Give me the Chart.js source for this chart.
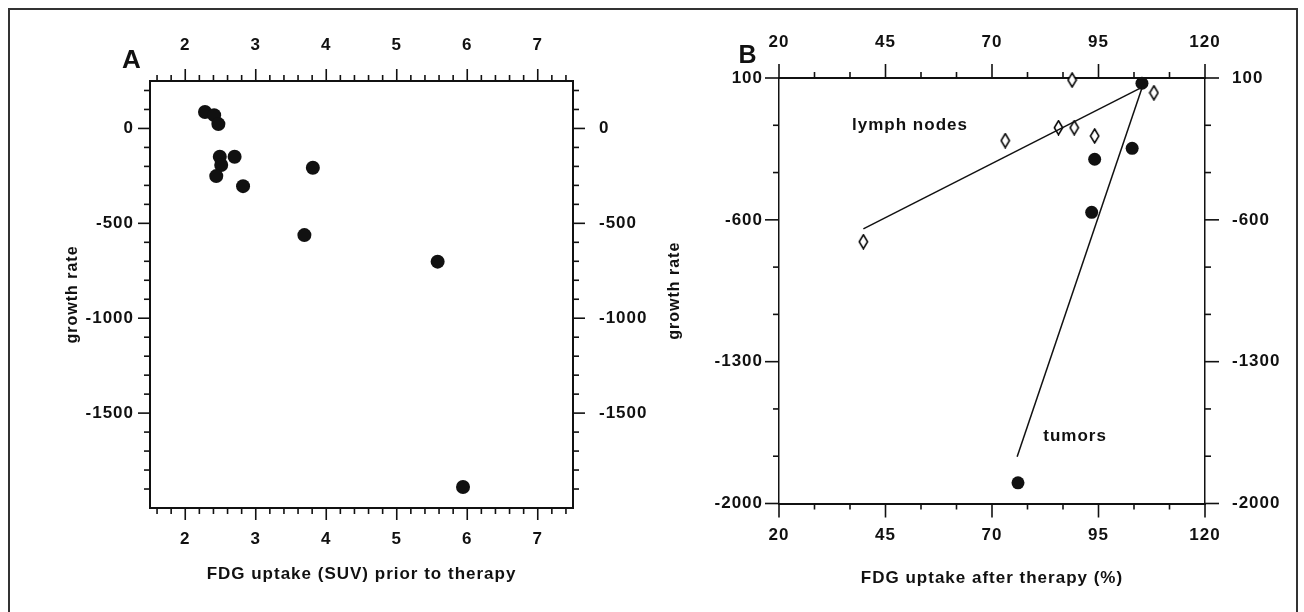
<!DOCTYPE html>
<html>
<head>
<meta charset="utf-8">
<script src="https://cdn.jsdelivr.net/npm/chart.js@4.4.1/dist/chart.umd.min.js"></script>
<style>
  html, body { margin: 0; padding: 0; background: #fff; }
  #page { position: relative; width: 1304px; height: 612px; overflow: hidden; }
  #frame { position: absolute; left: 8px; top: 8px; width: 1286px; height: 640px; border: 2px solid #333; }
  canvas { position: absolute; top: 0; }
  #chartA { left: 0; }
  #chartB { left: 652px; }
</style>
</head>
<body>
<div id="page">
  <div id="frame"></div>
  <canvas id="chartA" width="652" height="612"></canvas>
  <canvas id="chartB" width="652" height="612"></canvas>
</div>
<script>
// Panel A: SUV before therapy vs growth rate
const suvPrior = [2.28, 2.41, 2.47, 2.49, 2.70, 2.51, 2.44, 2.82, 3.81, 3.69, 5.58, 5.94];
const growthA = [87, 70, 23, -149, -149, -193, -251, -304, -207, -562, -702, -1889];
const ticksAX = [2, 3, 4, 5, 6, 7];
const ticksAY = [0, -500, -1000, -1500];

// Panel B: FDG uptake after therapy (%) vs growth rate
const nodesX = [88.8, 108.0, 85.6, 89.3, 94.1, 73.1, 39.8];
const nodesY = [90, 27, -145, -145, -186, -209, -708];
const tumorsX = [105.2, 102.9, 94.1, 93.4, 76.1];
const tumorsY = [74, -247, -301, -563, -1898];
const nodesFitX = [39.8, 104.7];
const nodesFitY = [-645, 49];
const tumorsFitX = [75.9, 105.7];
const tumorsFitY = [-1769, 82];
const ticksBX = [20, 45, 70, 95, 120];
const ticksBY = [100, -600, -1300, -2000];

const INK = '#111';
Chart.defaults.font.family = '"Liberation Sans", Arial, sans-serif';
Chart.defaults.font.weight = 'bold';
Chart.defaults.color = INK;

const toPoints = (xs, ys) => xs.map((x, i) => ({ x: x, y: ys[i] }));
const isLabel = (labels, v) => labels.some(l => Math.abs(l - v) < 1e-6);

// minor ticks every step, long ticks where a label sits
function tickList(min, max, step, labels) {
  const out = [];
  const a = labels[0];
  const k0 = Math.ceil((min - a) / step - 1e-6);
  for (let k = k0; a + k * step <= max + 1e-6; k++) {
    const v = a + k * step;
    const big = isLabel(labels, v);
    if (big || (v > min + 1e-6 && v < max - 1e-6)) out.push({ value: v, big: big });
  }
  return out;
}

function makeAxis(pos, min, max, step, labels, size, pad, title, border) {
  return {
    type: 'linear',
    position: pos,
    min: min,
    max: max,
    grid: { display: false, drawTicks: false },
    border: { display: true, color: INK, width: border },
    ticks: {
      autoSkip: false,
      maxRotation: 0,
      minRotation: 0,
      padding: pad,
      font: { size: 17, weight: 'bold' },
      callback: v => isLabel(labels, v) ? String(labels.find(l => Math.abs(l - v) < 1e-6)) : ''
    },
    title: title || { display: false },
    afterBuildTicks: s => { s.ticks = tickList(min, max, step, labels); },
    afterFit: s => {
      if (pos === 'left' || pos === 'right') s.width = size; else s.height = size;
    }
  };
}

// tick marks drawn from the scales' ticks
const tickMarks = {
  id: 'tickMarks',
  afterDraw(chart, args, opts) {
    const ctx = chart.ctx;
    ctx.save();
    ctx.strokeStyle = INK;
    ctx.lineWidth = 1.6;
    Object.values(chart.scales).forEach(s => {
      s.ticks.forEach(t => {
        const len = t.big ? opts.major : opts.minor;
        const p = s.getPixelForValue(t.value);
        ctx.beginPath();
        if (s.position === 'left') { ctx.moveTo(s.right - len, p); ctx.lineTo(s.right, p); }
        else if (s.position === 'right') { ctx.moveTo(s.left, p); ctx.lineTo(s.left + len, p); }
        else if (s.position === 'top') { ctx.moveTo(p, s.bottom - len); ctx.lineTo(p, s.bottom); }
        else { ctx.moveTo(p, s.top); ctx.lineTo(p, s.top + len); }
        ctx.stroke();
      });
    });
    ctx.restore();
  }
};

// panel letters and curve labels
const notes = {
  id: 'notes',
  beforeDraw(chart) { chart.ctx.letterSpacing = '1px'; },
  afterDraw(chart, args, opts) {
    const ctx = chart.ctx;
    (opts.items || []).forEach(n => {
      let x = n.x, y = n.y;
      if (n.data) {
        x = chart.scales.x.getPixelForValue(n.x);
        y = chart.scales.y.getPixelForValue(n.y);
      }
      ctx.save();
      ctx.font = 'bold ' + n.size + 'px "Liberation Sans", Arial, sans-serif';
      ctx.fillStyle = INK;
      ctx.textAlign = 'center';
      ctx.textBaseline = 'middle';
      ctx.fillText(n.text, x, y);
      ctx.restore();
    });
  }
};

// open tall diamond for lymph nodes
const diamond = document.createElement('canvas');
diamond.width = 11; diamond.height = 16;
(function () {
  const c = diamond.getContext('2d');
  c.beginPath();
  c.moveTo(5.5, 1); c.lineTo(9.7, 8); c.lineTo(5.5, 15); c.lineTo(1.3, 8); c.closePath();
  c.fillStyle = '#fff'; c.fill();
  c.strokeStyle = '#000'; c.lineWidth = 1.5; c.stroke();
})();

const ytitle = (pad) => ({ display: true, text: 'growth rate', font: { size: 16, weight: 'bold' }, padding: { top: pad } });
const xtitle = (txt, pad) => ({ display: true, text: txt, font: { size: 17, weight: 'bold' }, padding: { bottom: pad } });

new Chart(document.getElementById('chartA'), {
  type: 'scatter',
  data: {
    datasets: [{
      data: toPoints(suvPrior, growthA),
      pointStyle: 'circle',
      pointRadius: 7,
      pointHoverRadius: 7,
      backgroundColor: INK,
      borderColor: INK,
      borderWidth: 0,
      clip: false
    }]
  },
  options: {
    responsive: false,
    animation: false,
    events: [],
    layout: { padding: 0 },
    scales: {
      x: makeAxis('bottom', 1.5, 7.5, 0.2, ticksAX, 104, 21, xtitle('FDG uptake (SUV) prior to therapy', 27), 2),
      x2: makeAxis('top', 1.5, 7.5, 0.2, ticksAX, 81, 25, null, 2),
      y: makeAxis('left', -2000, 250, 100, ticksAY, 150, 16, ytitle(63), 2),
      y2: makeAxis('right', -2000, 250, 100, ticksAY, 79, 26, null, 2)
    },
    plugins: {
      legend: { display: false },
      tooltip: { enabled: false },
      tickMarks: { major: 12, minor: 6 },
      notes: { items: [{ text: 'A', x: 132, y: 61, size: 26 }] }
    }
  },
  plugins: [tickMarks, notes]
});

new Chart(document.getElementById('chartB'), {
  type: 'scatter',
  data: {
    datasets: [
      {
        data: toPoints(nodesFitX, nodesFitY),
        showLine: true,
        borderColor: INK,
        borderWidth: 1.5,
        pointRadius: 0,
        clip: false
      },
      {
        data: toPoints(tumorsFitX, tumorsFitY),
        showLine: true,
        borderColor: INK,
        borderWidth: 1.5,
        pointRadius: 0,
        clip: false
      },
      {
        data: toPoints(nodesX, nodesY),
        pointStyle: diamond,
        pointRadius: 7,
        clip: false
      },
      {
        data: toPoints(tumorsX, tumorsY),
        pointStyle: 'circle',
        pointRadius: 6.5,
        backgroundColor: INK,
        borderColor: INK,
        borderWidth: 0,
        clip: false
      }
    ]
  },
  options: {
    responsive: false,
    animation: false,
    events: [],
    layout: { padding: 0 },
    scales: {
      x: makeAxis('bottom', 20, 120, 25 / 3, ticksBX, 108.5, 22, xtitle('FDG uptake after therapy (%)', 23), 2),
      x2: makeAxis('top', 20, 120, 25 / 3, ticksBX, 78, 25, null, 2),
      y: makeAxis('left', -2000, 100, 700 / 3, ticksBY, 127, 16, ytitle(13), 1.5),
      y2: makeAxis('right', -2000, 100, 700 / 3, ticksBY, 99, 27, null, 1.5)
    },
    plugins: {
      legend: { display: false },
      tooltip: { enabled: false },
      tickMarks: { major: 14, minor: 6 },
      notes: {
        items: [
          { text: 'B', x: 96, y: 56, size: 25 },
          { text: 'lymph nodes', x: 50.75, y: -132, size: 17, data: true },
          { text: 'tumors', x: 89.5, y: -1667, size: 17, data: true }
        ]
      }
    }
  },
  plugins: [tickMarks, notes]
});
</script>
</body>
</html>
